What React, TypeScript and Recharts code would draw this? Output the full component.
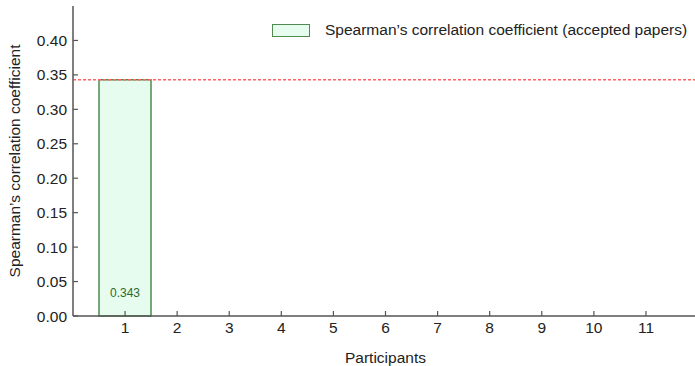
import React from "react";
import {
  ComposedChart,
  Bar,
  XAxis,
  YAxis,
  ReferenceLine,
  Legend,
  LabelList,
} from "recharts";

// Participant ids along the x axis
const participants: string[] = ["1", "2", "3", "4", "5", "6", "7", "8", "9", "10", "11"];
// Spearman's correlation coefficient per participant (only participant 1 has a value)
const coefficients: (number | null)[] = [0.343, null, null, null, null, null, null, null, null, null, null];
// Reference level drawn as a dashed line
const referenceLevel = 0.343;
const yTicks: number[] = [0, 0.05, 0.1, 0.15, 0.2, 0.25, 0.3, 0.35, 0.4];

const seriesName = "Spearman\u2019s correlation coefficient (accepted papers)";

const data = participants.map((p, i) => ({ participant: p, value: coefficients[i] }));

const FONT = "'Liberation Sans', Arial, Helvetica, sans-serif";
const AXIS = "#555555";
const TEXT = "#222222";
const BAR_FILL = "#e6fcee";
const BAR_STROKE = "#4f8a4f";

const BottomTick = (props: any) => {
  const { x, y, payload } = props;
  return (
    <g>
      <line x1={x} x2={x} y1={y} y2={y - 5} stroke={AXIS} strokeWidth={1.2} />
      <text x={x} y={y + 17} textAnchor="middle" fontSize={15.5} fontFamily={FONT} fill={TEXT}>
        {payload.value}
      </text>
    </g>
  );
};

const TopTick = (props: any) => {
  const { x, y } = props;
  return <line x1={x} x2={x} y1={y} y2={y + 5} stroke={AXIS} strokeWidth={1.2} />;
};

const LeftTick = (props: any) => {
  const { x, y, payload } = props;
  return (
    <g>
      <line x1={x} x2={x + 5} y1={y} y2={y} stroke={AXIS} strokeWidth={1.2} />
      <text x={x - 6} y={y + 5.5} textAnchor="end" fontSize={15.5} fontFamily={FONT} fill={TEXT}>
        {Number(payload.value).toFixed(2)}
      </text>
    </g>
  );
};

const YTitle = (props: any) => {
  const vb = props.viewBox || { x: 0, y: 0, width: 0, height: 0 };
  const cx = vb.x + 14;
  const cy = vb.y + vb.height / 2;
  return (
    <text
      transform={`translate(${cx},${cy}) rotate(-90)`}
      textAnchor="middle"
      dy={5.5}
      fontSize={15.5}
      fontFamily={FONT}
      fill={TEXT}
    >
      Spearman&#8217;s correlation coefficient
    </text>
  );
};

const XTitle = (props: any) => {
  const vb = props.viewBox || { x: 0, y: 0, width: 0, height: 0 };
  return (
    <text
      x={vb.x + vb.width / 2}
      y={vb.y + 47}
      textAnchor="middle"
      fontSize={15.5}
      fontFamily={FONT}
      fill={TEXT}
    >
      Participants
    </text>
  );
};

const ValueLabel = (props: any) => {
  const { x, y, width, height, value } = props;
  if (value == null) return null;
  return (
    <text
      x={x + width / 2}
      y={y + height - 19}
      textAnchor="middle"
      fontSize={12}
      fontFamily={FONT}
      fill="#2d6a2d"
    >
      {Number(value).toFixed(3)}
    </text>
  );
};

const LegendBox = () => (
  <div style={{ display: "flex", alignItems: "center", fontFamily: FONT }}>
    <div
      style={{
        width: 36,
        height: 11,
        border: `1.5px solid ${BAR_STROKE}`,
        background: BAR_FILL,
        marginRight: 15,
      }}
    />
    <span style={{ fontSize: 15.5, color: TEXT, whiteSpace: "nowrap" }}>{seriesName}</span>
  </div>
);

export default function App() {
  return (
    <div style={{ position: "absolute", top: 0, left: 0, width: 695, height: 366, overflow: "hidden" }}>
      <ComposedChart
        width={700}
        height={366}
        data={data}
        margin={{ top: 6, right: 2, bottom: 0, left: 0 }}
        barCategoryGap={0}
      >
        <XAxis
          dataKey="participant"
          type="category"
          height={50}
          padding={{ left: 26, right: 26 }}
          axisLine={{ stroke: AXIS, strokeWidth: 1.5 }}
          tickLine={false}
          tickSize={0}
          tickMargin={0}
          tick={<BottomTick />}
          interval={0}
          label={<XTitle />}
        />
        <XAxis
          xAxisId="top"
          dataKey="participant"
          type="category"
          orientation="top"
          height={0}
          padding={{ left: 26, right: 26 }}
          axisLine={{ stroke: AXIS, strokeWidth: 1.5 }}
          tickLine={false}
          tickSize={0}
          tickMargin={0}
          tick={<TopTick />}
          interval={0}
        />
        <YAxis
          type="number"
          domain={[0, 0.45]}
          ticks={yTicks}
          width={73}
          axisLine={{ stroke: AXIS, strokeWidth: 1.5 }}
          tickLine={false}
          tickSize={0}
          tickMargin={0}
          tick={<LeftTick />}
          interval={0}
          label={<YTitle />}
        />
        <Legend
          layout="vertical"
          align="center"
          verticalAlign="middle"
          wrapperStyle={{ top: 21, left: 272, width: 430 }}
          content={<LegendBox />}
        />
        <ReferenceLine
          y={referenceLevel}
          stroke="#ff6565"
          strokeWidth={1.5}
          strokeDasharray="3 2"
          ifOverflow="extendDomain"
        />
        <Bar
          dataKey="value"
          name={seriesName}
          fill={BAR_FILL}
          stroke={BAR_STROKE}
          strokeWidth={1.5}
          isAnimationActive={false}
        >
          <LabelList dataKey="value" content={<ValueLabel />} />
        </Bar>
      </ComposedChart>
    </div>
  );
}
